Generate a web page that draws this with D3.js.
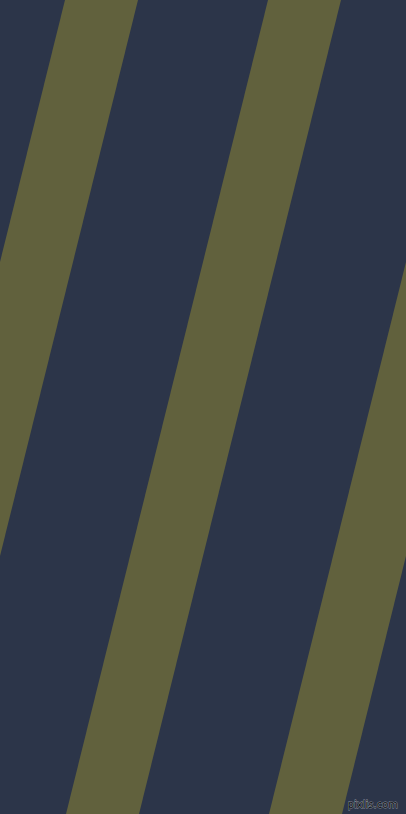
<!DOCTYPE html>
<html>
<head>
<meta charset="utf-8">
<script src="https://cdn.jsdelivr.net/npm/d3@7"></script>
<style>
  html, body { margin: 0; padding: 0; background: #2c3549; }
  svg { display: block; }
</style>
</head>
<body>
<div id="root"></div>
<script>
// Stripe data: where each olive band's left edge meets the top edge (px along the top)
const stripeStarts = [-138, 65, 268, 471];
const stripeWidth = 73;        // horizontal width of a band
const stripeDrift = -202;      // how far a band moves left from top to bottom
const colors = { background: '#2c3549', stripe: '#61613d' };
const watermark = 'pixlis.com';

const width = 406, height = 814;

const svg = d3.select('#root').append('svg')
    .attr('width', width)
    .attr('height', height);

svg.append('rect')
    .attr('width', width)
    .attr('height', height)
    .attr('fill', colors.background);

// y maps picture rows, xShift maps row -> horizontal drift of a band
const y = d3.scaleLinear().domain([0, 1]).range([0, height]);
const xShift = d3.scaleLinear().domain([0, 1]).range([0, stripeDrift]);

svg.append('g').selectAll('path').data(stripeStarts)
    .join('path')
    .attr('fill', colors.stripe)
    .attr('d', start => d3.line()([
        [start + xShift(0), y(0)],
        [start + stripeWidth + xShift(0), y(0)],
        [start + stripeWidth + xShift(1), y(1)],
        [start + xShift(1), y(1)]
    ]) + 'Z');

svg.append('text')
    .attr('x', width - 8)
    .attr('y', height - 6)
    .attr('text-anchor', 'end')
    .attr('font-family', 'DejaVu Sans, sans-serif')
    .attr('font-size', 10)
    .attr('fill', '#111')
    .attr('stroke', '#9096a0')
    .attr('stroke-width', 0.8)
    .attr('paint-order', 'stroke')
    .text(watermark);
</script>
</body>
</html>
